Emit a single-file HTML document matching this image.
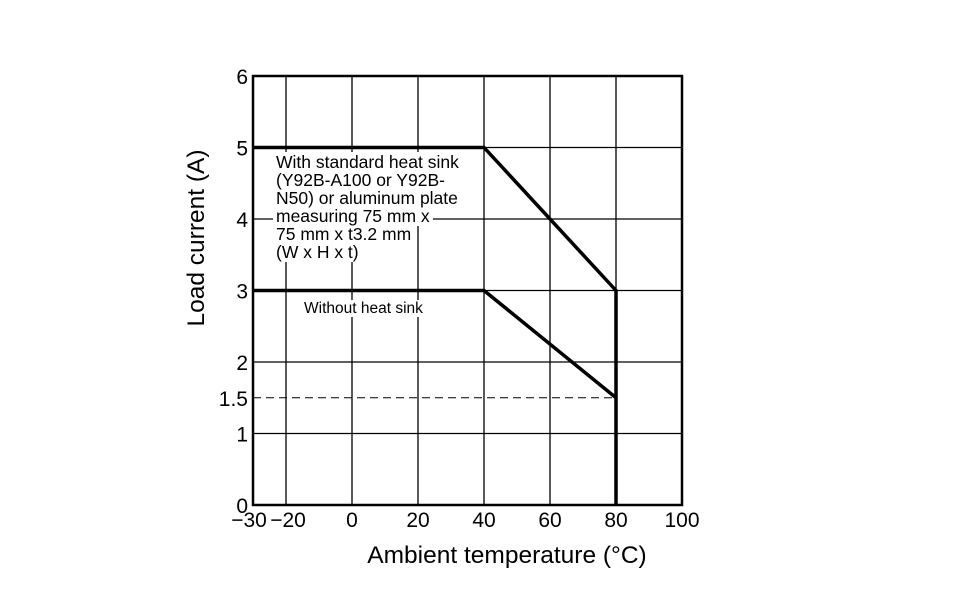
<!DOCTYPE html>
<html><head><meta charset="utf-8"><style>
html,body{margin:0;padding:0;background:#fff;}
svg{display:block;font-family:"Liberation Sans",sans-serif;}
</style></head><body>
<svg id="c" width="953" height="614" viewBox="0 0 953 614"></svg>
<script>
const xTicks=[-30,-20,0,20,40,60,80,100];
const xTickLabels=["\u221230","\u221220","0","20","40","60","80","100"];
const yTicks=[0,1,1.5,2,3,4,5,6];
const yTickLabels=["0","1","1.5","2","3","4","5","6"];
const gridX=[-20,0,20,40,60,80];
const gridY=[1,2,3,4,5];
const heatSinkX=[-30,40,80,80];
const heatSinkY=[5,5,3,0];
const noSinkX=[-30,40,80];
const noSinkY=[3,3,1.5];
const refLevel=[1.5];

const NS="http://www.w3.org/2000/svg";
const svg=document.getElementById('c');
const X=v=>253+(v+30)*3.3;
const Y=v=>505-v*71.5;
function mk(t,a,p){const e=document.createElementNS(NS,t);for(const k in a)e.setAttribute(k,a[k]);(p||svg).appendChild(e);return e;}

const g=mk('g',{});


gridX.forEach(v=>{const l=mk('line',{x1:X(v),x2:X(v),y1:Y(6),y2:Y(0),stroke:'#000','stroke-width':1.3},g);

});
gridY.forEach(v=>{const l=mk('line',{x1:X(-30),x2:X(100),y1:Y(v),y2:Y(v),stroke:'#000','stroke-width':1.3},g);

});

refLevel.forEach(v=>{const l=mk('line',{x1:X(-30),x2:X(80),y1:Y(v),y2:Y(v),stroke:'#000','stroke-width':1,'stroke-dasharray':'8,5'});

});

const bgLayer=mk('g',{});



const fr=mk('rect',{x:X(-30),y:Y(6),width:X(100)-X(-30),height:Y(0)-Y(6),fill:'none',stroke:'#000','stroke-width':2.5});



const p1=mk('polyline',{points:heatSinkX.map((x,i)=>X(x)+','+Y(heatSinkY[i])).join(' '),fill:'none',stroke:'#000','stroke-width':3.5});


const p2=mk('polyline',{points:noSinkX.map((x,i)=>X(x)+','+Y(noSinkY[i])).join(' '),fill:'none',stroke:'#000','stroke-width':3.5});



xTicks.forEach((v,i)=>{const t=mk('text',{x:X(v)+(v===-30?-4:v===-20?2:0),y:527,'font-size':21,'text-anchor':'middle',fill:'#000'});t.textContent=xTickLabels[i];

});
yTicks.forEach((v,i)=>{const t=mk('text',{x:248,y:Y(v)+8,'font-size':21,'text-anchor':'end',fill:'#000'});t.textContent=yTickLabels[i];

});

const xt=mk('text',{x:507,y:563,'font-size':24.5,'text-anchor':'middle'});xt.textContent='Ambient temperature (\u00B0C)';


const yt=mk('text',{x:0,y:0,'font-size':24.5,'text-anchor':'middle',transform:'translate(204,238) rotate(-90)'});yt.textContent='Load current (A)';



function addBg(t){const b=t.getBBox();mk('rect',{x:b.x-3,y:b.y,width:b.width+6,height:b.height,fill:'#fff'},bgLayer);}
const lines=["With standard heat sink","(Y92B-A100 or Y92B-","N50) or aluminum plate","measuring 75 mm x","75 mm x t3.2 mm","(W x H x t)"];
lines.forEach((s,i)=>{const t=mk('text',{x:276,y:168+i*18,'font-size':17.5});t.textContent=s;

addBg(t);});
const a2=mk('text',{x:304,y:313,'font-size':15.5});a2.textContent='Without heat sink';

addBg(a2);
</script>
</body></html>
